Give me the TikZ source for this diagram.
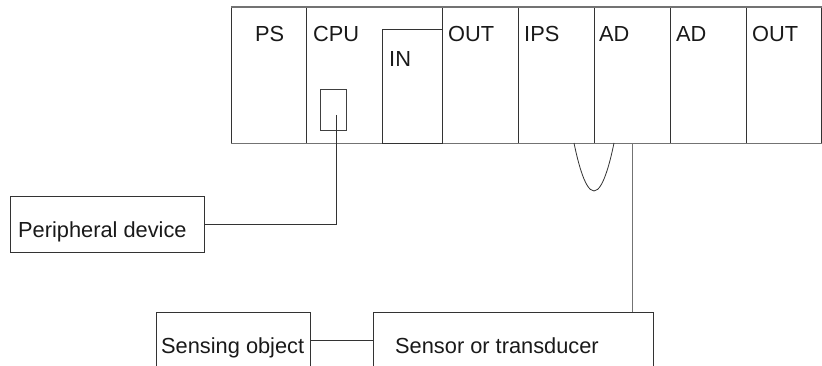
\documentclass[tikz,border=0pt]{standalone}
\usepackage{fontspec}
\setmainfont{Liberation Sans}
\begin{document}
\begin{tikzpicture}[x=1pt,y=-1pt,
  mod/.style={draw=black!80, line width=0.9pt, inner sep=0pt, minimum height=136pt, anchor=north west},
  lbl/.style={anchor=base west, inner sep=0pt, text=black!90, font=\fontsize{21.8}{26}\selectfont},
  box/.style={draw=black!80, line width=0.9pt, inner sep=0pt, anchor=north west},
  wire/.style={draw=black!80, line width=0.9pt},
  gwire/.style={draw=black!55, line width=1.1pt}]
\useasboundingbox (0,0) rectangle (822,366);
\clip (0,0) rectangle (822,366);
% rack modules
\node[mod, minimum width=75pt] (ps) at (231,7) {};
\node[mod, minimum width=136pt] (cpu) at (306,7) {};
\node[mod, minimum width=76pt] (out1) at (442,7) {};
\node[mod, minimum width=76pt] (ips) at (518,7) {};
\node[mod, minimum width=76pt] (ad1) at (594,7) {};
\node[mod, minimum width=76pt] (ad2) at (670,7) {};
\node[mod, minimum width=75pt] (out2) at (746,7) {};
\draw[gwire] (ps.north west) -- (out2.north east);
\draw[gwire] (ps.south west) -- (out2.south east);
% IN module inside CPU slot
\node[box, minimum width=60pt, minimum height=114pt] (in) at (382,29) {};
% CPU port
\node[box, minimum width=26pt, minimum height=41pt, draw=black!75, line width=0.7pt] (port) at (320,89) {};
% labels
\node[lbl] (tps) at (255,42) {PS};
\node[lbl] (tcpu) at (313,42) {CPU};
\node[lbl] (tin) at (389,67) {IN};
\node[lbl] (tout1) at (448,42) {OUT};
\node[lbl] (tips) at (524,42) {IPS};
\node[lbl] (tad1) at (599,42) {AD};
\node[lbl] (tad2) at (676,42) {AD};
\node[lbl] (tout2) at (752,42) {OUT};
% lower boxes
\node[box, minimum width=194pt, minimum height=56pt] (per) at (10,196) {};
\node[lbl] (tper) at (18,237) {Peripheral device};
\node[box, minimum width=154pt, minimum height=70pt] (sobj) at (156,312) {};
\node[lbl] (tsobj) at (161,353) {Sensing object};
\node[box, minimum width=280pt, minimum height=70pt] (sens) at (373,312) {};
\node[lbl] (tsens) at (395,353) {Sensor or transducer};
% connectors
\coordinate (pstart) at (336,115);
\draw[wire] (pstart) |- (per.east);
\draw[wire] (sobj.east |- 0,340) -- (sens.west |- 0,340);
\draw[gwire] (ad1.south) -- (ad1.south |- sens.north);
\coordinate (ul) at (574,143);
\coordinate (ur) at (614,143);
\draw[wire, line width=0.8pt] (ul) parabola bend (594,191) (ur);
\end{tikzpicture}
\end{document}
